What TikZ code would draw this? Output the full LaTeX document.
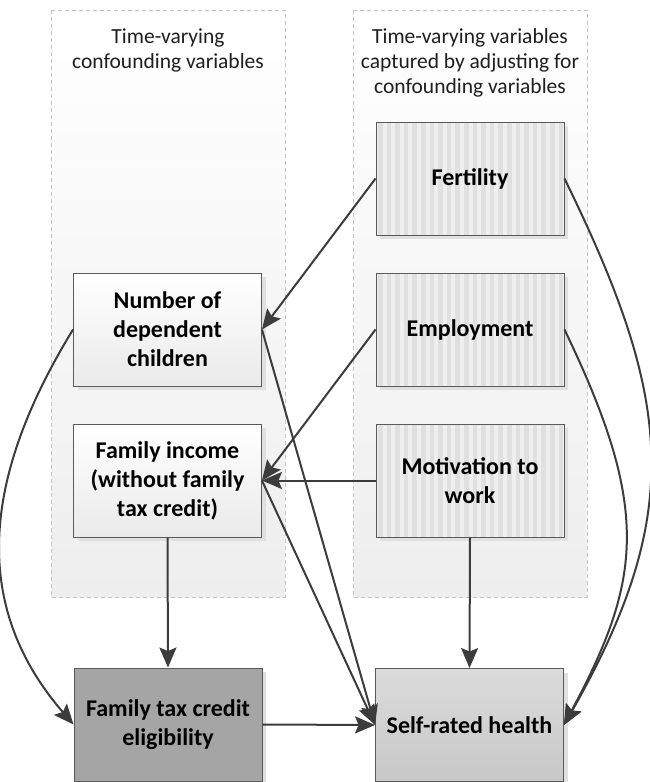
\documentclass[tikz,border=0pt]{standalone}
\usepackage{fontspec}
\setmainfont{Carlito}
\usetikzlibrary{arrows.meta,shadows}

\definecolor{edge}{HTML}{3C3C3C}
\definecolor{boxline}{HTML}{5A5A5A}
\definecolor{panelline}{HTML}{C4C4C4}
\definecolor{panelbot}{HTML}{EEEEEE}
\definecolor{stripeA}{HTML}{EFEFEF}
\definecolor{stripeB}{HTML}{E0E0E0}
\definecolor{shade}{HTML}{E0E0E0}
\definecolor{hlthtop}{HTML}{DBDBDB}
\definecolor{hlthbot}{HTML}{C8C8C8}
\definecolor{elig}{HTML}{A5A5A5}
\definecolor{plainbot}{HTML}{EAEAEA}

\begin{document}
\begin{tikzpicture}[x=1pt,y=-1pt,
  panel/.style={draw=panelline, dash pattern=on 4pt off 3pt, line width=0.8pt,
    top color=white, bottom color=panelbot},
  title/.style={font=\fontsize{21.5}{25}\selectfont, text=black!88,
    align=center, anchor=north, inner sep=0pt},
  var/.style={draw=boxline, line width=0.9pt, minimum width=188pt,
    minimum height=113pt, align=center, inner sep=2pt,
    font=\fontsize{24}{29}\selectfont\bfseries,
    drop shadow={shadow xshift=4pt, shadow yshift=-4pt, fill=shade, opacity=1}},
  plainvar/.style={var, top color=white, bottom color=plainbot},
  stripevar/.style={var, fill=stripeA,
    path picture={
      \foreach \k in {0,...,21}
        \fill[stripeB]
          ([xshift=\k*8.6pt+2pt]path picture bounding box.north west)
          rectangle
          ([xshift=\k*8.6pt+6.5pt]path picture bounding box.south west);
    }},
  link/.style={draw=edge, line width=2pt,
    -{Stealth[length=20pt,width=17pt,inset=3.5pt]}},
]
\useasboundingbox (0,0) rectangle (650,782);
\fill[white] (0,0) rectangle (650,782);

% the two groups of time-varying variables
\path[panel] (51,10) rectangle (285,597);
\path[panel] (353,10) rectangle (587,597);
\node[title] (ttlL) at (168,29) {Time-varying\\confounding variables};
\node[title] (ttlR) at (470,28) {Time-varying variables\\captured by adjusting for\\confounding variables};

% variables
\node[stripevar] (fert)  at (470,178.5) {Fertility};
\node[stripevar] (empl)  at (470,329.5) {Employment};
\node[stripevar] (motiv) at (470,480.5) {Motivation to\\work};
\node[plainvar]  (kids)  at (167.5,329.5) {Number of\\dependent\\children};
\node[plainvar]  (income) at (167.5,480.5) {Family income\\(without family\\tax credit)};
\node[var, fill=elig] (ftc) at (168,724.5) {Family tax credit\\eligibility};
\node[var, top color=hlthtop, bottom color=hlthbot] (srh) at (469.5,725) {Self-rated health};

% causal paths
\draw[link] (fert.west) -- (kids.east);
\draw[link] (empl.west) -- (income.east);
\draw[link] (motiv.west) -- (income.east);
\draw[link] (kids.east) -- (srh.west);
\draw[link] (income.east) -- (srh.west);
\draw[link] (income.south) -- (ftc.north);
\draw[link] (motiv.south) -- (srh.north);
\draw[link] (ftc.east) -- (srh.west);
\draw[link] (kids.west) .. controls (-26,491) and (-22,614) .. (ftc.west);
\draw[link] (fert.east) .. controls (672,398) and (686,511) .. (srh.east);
\draw[link] (empl.east) .. controls (651,509) and (642,579) .. (srh.east);
\end{tikzpicture}
\end{document}
